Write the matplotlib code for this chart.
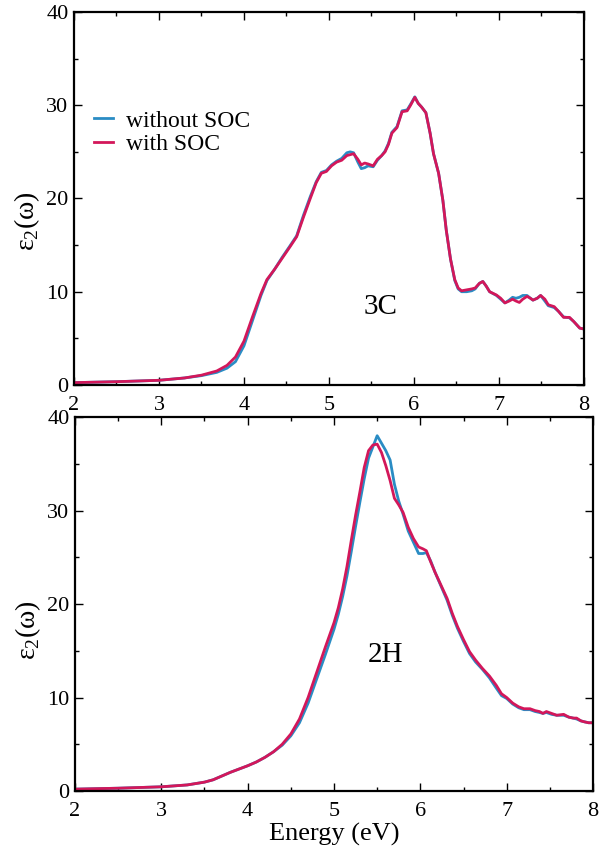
import matplotlib
matplotlib.use('Agg')
import matplotlib.pyplot as plt
from matplotlib.ticker import MultipleLocator

plt.rcParams['font.family'] = ['Liberation Serif', 'DejaVu Serif']
plt.rcParams['mathtext.fontset'] = 'custom'
plt.rcParams['mathtext.rm'] = 'Liberation Serif'

# 3C polytype
energy_3c = [2.0, 2.5, 3.0, 3.3, 3.5, 3.68, 3.8, 3.9, 4.0, 4.1, 4.2, 4.27, 4.36,
             4.45, 4.54, 4.62, 4.70, 4.78, 4.85, 4.91, 4.97, 5.03, 5.09, 5.15,
             5.21, 5.25, 5.29, 5.34, 5.38, 5.42, 5.46, 5.52, 5.57, 5.62, 5.66,
             5.70, 5.74, 5.80, 5.86, 5.92, 5.96, 6.01, 6.05, 6.09, 6.14, 6.19,
             6.23, 6.29, 6.34, 6.38, 6.43, 6.48, 6.52, 6.56, 6.62, 6.68, 6.72,
             6.77, 6.81, 6.85, 6.89, 6.97, 7.02, 7.07, 7.12, 7.16, 7.20, 7.24,
             7.28, 7.33, 7.37, 7.40, 7.45, 7.49, 7.54, 7.58, 7.65, 7.70, 7.76,
             7.83, 7.88, 7.95, 8.0]
eps_3c_soc = [0.25, 0.35, 0.5, 0.75, 1.05, 1.5, 2.1, 3.0, 4.7, 7.3, 9.8, 11.3, 12.4,
              13.6, 14.8, 15.9, 18.0, 20.0, 21.7, 22.7, 22.9, 23.5, 23.9, 24.1,
              24.6, 24.7, 24.8, 24.2, 23.6, 23.8, 23.7, 23.5, 24.2, 24.6, 25.0,
              25.8, 27.0, 27.6, 29.3, 29.4, 30.0, 30.85, 30.2, 29.8, 29.2, 27.0,
              24.8, 22.7, 19.8, 16.6, 13.5, 11.3, 10.4, 10.1, 10.2, 10.3, 10.4,
              10.9, 11.1, 10.6, 10.0, 9.65, 9.3, 8.8, 9.0, 9.2, 9.0, 8.85,
              9.2, 9.5, 9.3, 9.1, 9.3, 9.6, 9.2, 8.6, 8.4, 7.9, 7.25,
              7.25, 6.8, 6.1, 6.0]
eps_3c_nosoc = [0.25, 0.35, 0.5, 0.75, 1.0, 1.35, 1.8, 2.5, 4.2, 6.9, 9.6, 11.2, 12.4,
                13.7, 14.9, 16.0, 18.2, 20.2, 21.8, 22.8, 23.0, 23.6, 24.0, 24.3,
                24.9, 25.0, 24.9, 23.9, 23.2, 23.3, 23.5, 23.4, 24.1, 24.6, 25.1,
                25.9, 27.1, 27.7, 29.4, 29.5, 30.1, 30.9, 30.2, 29.8, 29.2, 27.0,
                24.8, 22.7, 19.8, 16.6, 13.5, 11.2, 10.3, 10.0, 10.0, 10.1, 10.3,
                10.9, 11.1, 10.6, 10.0, 9.6, 9.2, 8.8, 9.1, 9.4, 9.3, 9.4,
                9.6, 9.6, 9.3, 9.1, 9.3, 9.6, 9.0, 8.5, 8.3, 7.9, 7.3,
                7.2, 6.8, 6.1, 6.0]

# 2H polytype
energy_2h = [2.0, 2.5, 3.0, 3.3, 3.5, 3.6, 3.7, 3.8, 3.9, 4.0, 4.1, 4.2, 4.3, 4.4,
             4.5, 4.6, 4.7, 4.8, 4.9, 5.0, 5.05, 5.1, 5.15, 5.2, 5.25, 5.3, 5.35,
             5.4, 5.45, 5.5, 5.55, 5.6, 5.65, 5.7, 5.75, 5.8, 5.86, 5.92, 5.98,
             6.03, 6.07, 6.12, 6.17, 6.24, 6.31, 6.37, 6.43, 6.5, 6.57, 6.64,
             6.72, 6.8, 6.88, 6.94, 7.0, 7.07, 7.14, 7.2, 7.27, 7.33, 7.38, 7.42,
             7.46, 7.52, 7.58, 7.66, 7.72, 7.77, 7.81, 7.86, 7.9, 7.95, 8.0]
eps_2h_soc = [0.2, 0.3, 0.45, 0.65, 0.95, 1.2, 1.6, 2.0, 2.35, 2.7, 3.1, 3.6, 4.2, 5.0,
              6.1, 7.7, 10.0, 12.7, 15.4, 18.0, 19.6, 21.6, 24.0, 26.8, 29.5, 32.0, 34.6,
              36.4, 37.0, 37.1, 36.2, 34.8, 33.2, 31.3, 30.6, 29.8, 28.2, 27.0, 26.1,
              25.9, 25.7, 24.5, 23.4, 22.0, 20.6, 19.0, 17.6, 16.2, 14.9, 14.0,
              13.1, 12.3, 11.3, 10.4, 10.0, 9.4, 9.0, 8.8, 8.8, 8.6, 8.5, 8.3,
              8.5, 8.3, 8.1, 8.2, 7.9, 7.8, 7.8, 7.5, 7.4, 7.3, 7.3]
eps_2h_nosoc = [0.2, 0.3, 0.45, 0.65, 0.95, 1.2, 1.6, 2.0, 2.35, 2.7, 3.1, 3.6, 4.2, 4.9,
                5.9, 7.3, 9.4, 12.0, 14.6, 17.3, 18.9, 20.8, 23.0, 25.6, 28.3, 30.9, 33.4,
                35.6, 36.8, 38.0, 37.2, 36.4, 35.4, 32.8, 31.0, 29.6, 27.8, 26.6, 25.4,
                25.4, 25.5, 24.6, 23.4, 21.9, 20.4, 18.8, 17.4, 16.0, 14.7, 13.8,
                13.0, 12.1, 11.0, 10.2, 9.9, 9.3, 8.9, 8.7, 8.7, 8.5, 8.4, 8.3,
                8.4, 8.2, 8.1, 8.1, 7.9, 7.8, 7.7, 7.5, 7.4, 7.3, 7.3]

blue = '#2a8cc4'
red = '#d3175a'


def style_axes(ax, label_y):
    ax.set_xlim(2, 8)
    ax.set_ylim(0, 40)
    ax.xaxis.set_major_locator(MultipleLocator(1))
    ax.xaxis.set_minor_locator(MultipleLocator(0.5))
    ax.yaxis.set_major_locator(MultipleLocator(10))
    ax.yaxis.set_minor_locator(MultipleLocator(5))
    ax.tick_params(which='both', direction='in', top=True, right=True,
                   width=1.0, labelsize=16)
    ax.tick_params(axis='x', pad=8)
    ax.tick_params(axis='y', pad=4)
    ax.tick_params(which='major', length=5.5)
    ax.tick_params(which='minor', length=3)
    for s in ax.spines.values():
        s.set_linewidth(1.6)
    ax.set_ylabel('ε$_2$(ω)', fontsize=20)
    ax.yaxis.set_label_coords(-0.062, label_y)


fig = plt.figure(figsize=(5.99, 8.5), dpi=100)
ax1 = fig.add_axes([0.1235, 0.5471, 0.8514, 0.4388])
ax2 = fig.add_axes([0.1252, 0.0694, 0.8648, 0.4400])

ax1.plot(energy_3c, eps_3c_nosoc, color=blue, lw=2, label='without SOC')
ax1.plot(energy_3c, eps_3c_soc, color=red, lw=2, label='with SOC')
style_axes(ax1, 0.44)
ax1.text(5.61, 8.4, '3C', fontsize=21, ha='center', va='center')
ax1.legend(loc='upper left', bbox_to_anchor=(0.039, 0.737), frameon=False,
           fontsize=17, handlelength=0.8, handletextpad=0.55, labelspacing=0.1,
           borderpad=0, borderaxespad=0)

ax2.plot(energy_2h, eps_2h_nosoc, color=blue, lw=2)
ax2.plot(energy_2h, eps_2h_soc, color=red, lw=2)
style_axes(ax2, 0.43)
ax2.text(5.60, 14.5, '2H', fontsize=21, ha='center', va='center')
ax2.set_xlabel('Energy (eV)', fontsize=19, labelpad=1)

fig.savefig('out.png', dpi=100)
